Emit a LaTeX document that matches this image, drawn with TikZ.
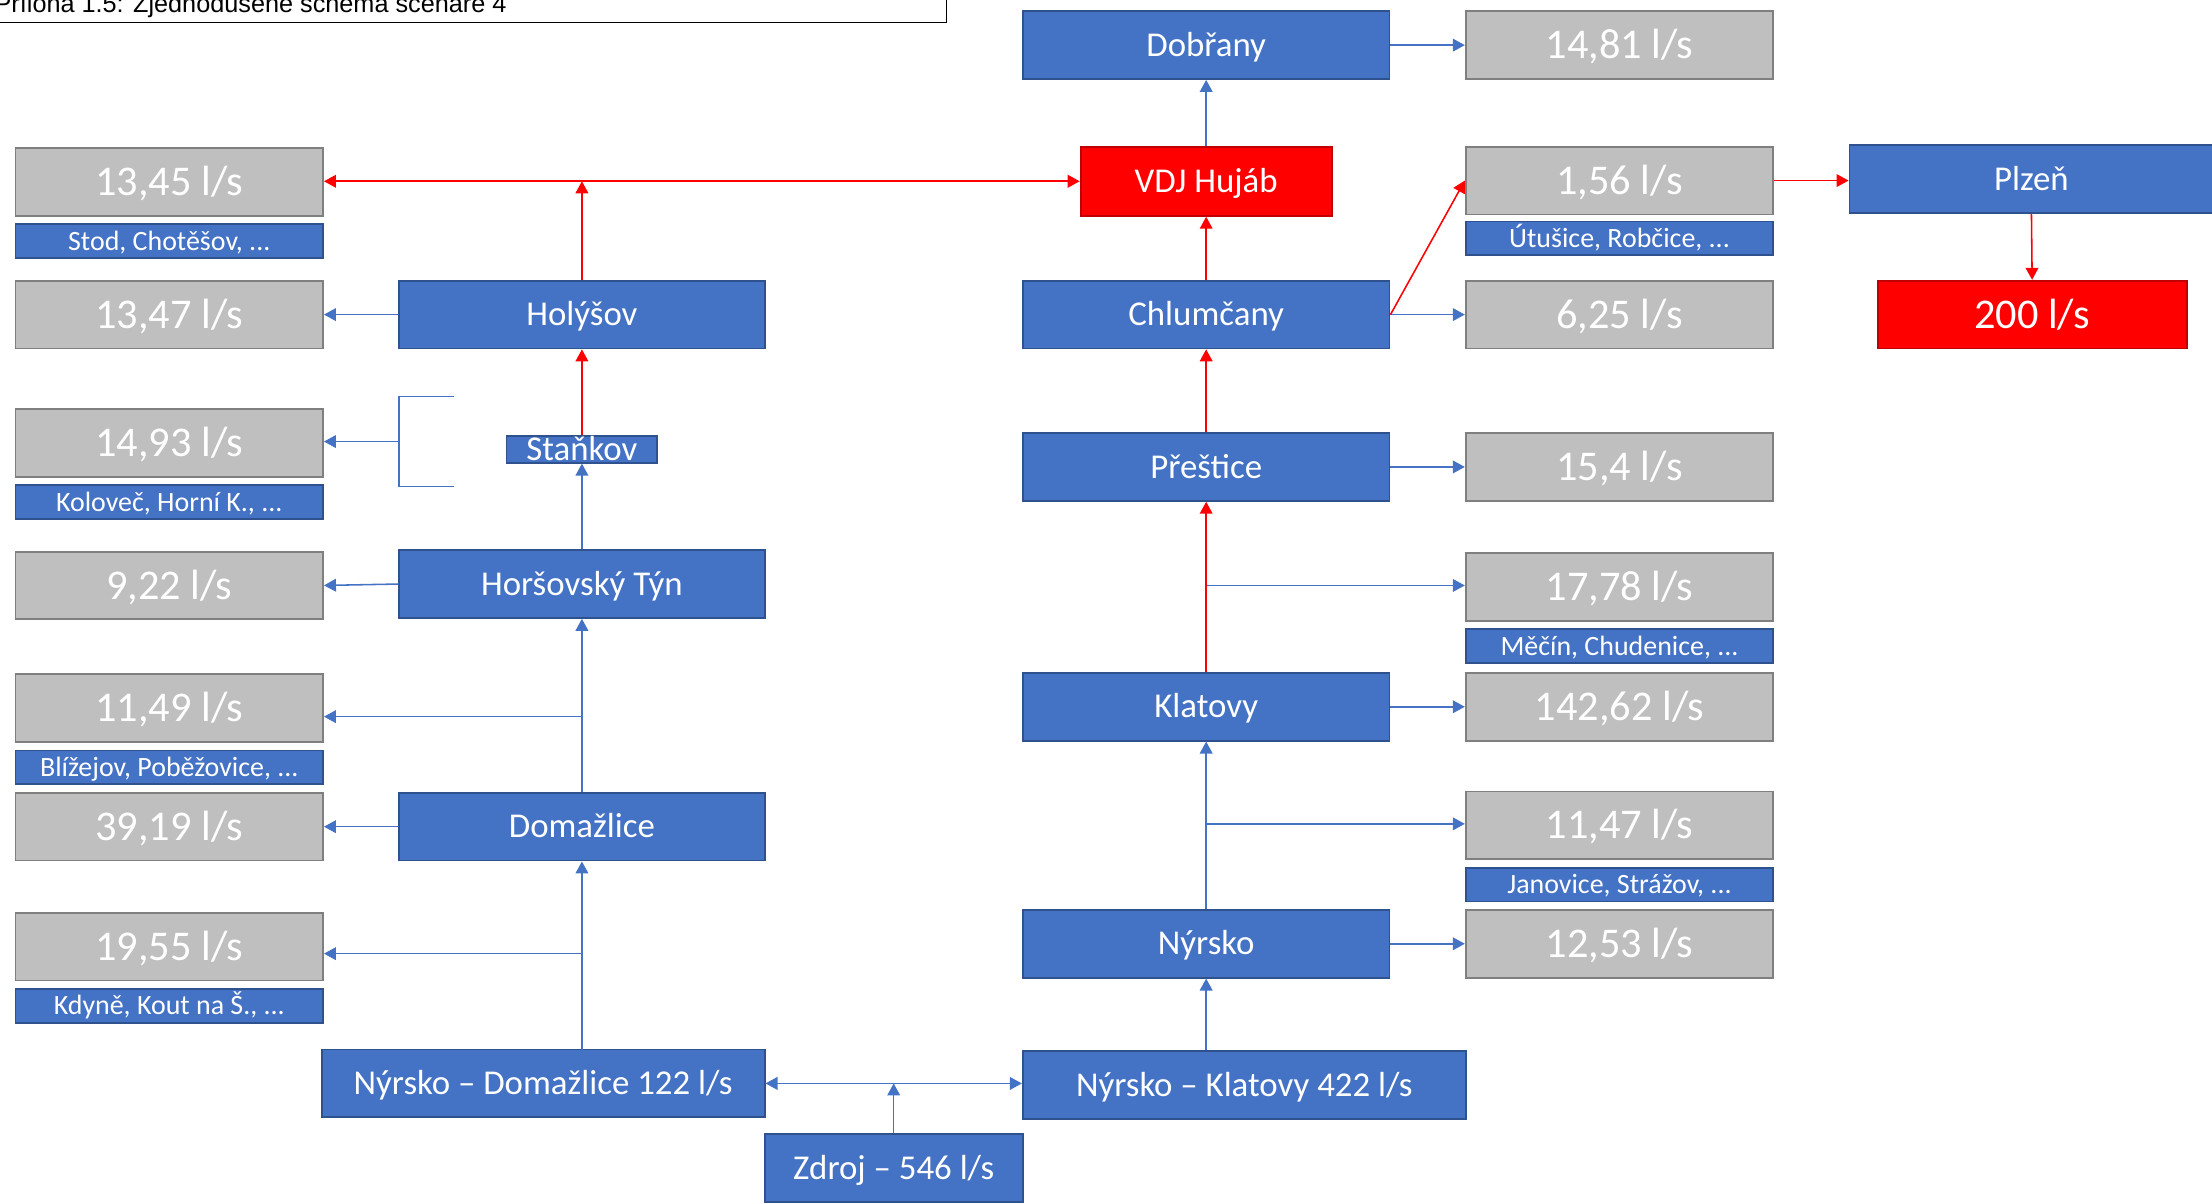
\documentclass[tikz,border=0pt]{standalone}
\usepackage{fontspec}
\setmainfont{Carlito}
\newfontfamily\capfont{Liberation Sans}
\usetikzlibrary{arrows.meta}
\definecolor{bfill}{HTML}{4472C4}
\definecolor{bdraw}{HTML}{2F528F}
\definecolor{gfill}{HTML}{BFBFBF}
\definecolor{gdraw}{HTML}{7F7F7F}
\definecolor{rfill}{HTML}{FF0000}
\definecolor{rdraw}{HTML}{C00000}
\definecolor{bline}{HTML}{4472C4}
\definecolor{rline}{HTML}{FF0000}
\begin{document}
\begin{tikzpicture}[x=1pt,y=-1pt,
  box/.style={inner sep=0pt, line width=1.3pt, text=white, text depth=0pt, align=center},
  gbox/.style={box, fill=gfill, draw=gdraw, minimum width=218pt, minimum height=48pt,
    text height=19.3pt, font=\fontsize{30}{35}\selectfont},
  lbl/.style={box, fill=bfill, draw=bdraw, minimum width=218pt, minimum height=24pt,
    text height=12.7pt, font=\fontsize{19.8}{24}\selectfont},
  bbox/.style={box, fill=bfill, draw=bdraw, minimum width=259pt, minimum height=48pt,
    text height=15.9pt, font=\fontsize{24.7}{29}\selectfont},
  rbox/.style={box, fill=rfill, draw=rdraw, minimum height=48pt},
  bconn/.style={draw=bline, line width=1.1pt, -{Triangle[length=8.5pt,width=9pt]}},
  bplain/.style={draw=bline, line width=1.1pt},
  rconn/.style={draw=rline, line width=1.1pt, -{Triangle[length=8.5pt,width=9pt]}},
]
\useasboundingbox (0,0) rectangle (1568,853);
\clip (0,0) rectangle (1568,853);

% caption
\draw[line width=1.2pt, black, fill=white] (-5,-25) rectangle (671,16);
\node[anchor=base west, inner sep=0pt, font=\capfont\fontsize{17.9}{21}\selectfont] (cap) at (-4,9) {Příloha 1.5: Zjednodušené schéma scénáře 4};

% left gray column
\node[gbox] (g1345) at (120,129) {13,45 l/s};
\node[lbl]  (lstod) at (120,171) {Stod, Chotěšov, ...};
\node[gbox] (g1347) at (120,223) {13,47 l/s};
\node[gbox] (g1493) at (120,314) {14,93 l/s};
\node[lbl]  (lkol)  at (120,356) {Koloveč, Horní K., ...};
\node[gbox] (g922)  at (120,415) {9,22 l/s};
\node[gbox] (g1149) at (120,502) {11,49 l/s};
\node[lbl]  (lbliz) at (120,544) {Blížejov, Poběžovice, ...};
\node[gbox] (g3919) at (120,586) {39,19 l/s};
\node[gbox] (g1955) at (120,671) {19,55 l/s};
\node[lbl]  (lkdy)  at (120,713) {Kdyně, Kout na Š., ...};

% left blue column
\node[bbox] (holysov) at (412.5,223) {Holýšov};
\node[bbox, minimum width=107pt, minimum height=19pt] (stankov) at (412.5,318.5) {Staňkov};
\node[bbox] (hortyn) at (412.5,414) {Horšovský Týn};
\node[bbox] (domaz) at (412.5,586) {Domažlice};
\node[bbox, minimum width=314pt] (nd) at (385,768) {Nýrsko – Domažlice 122 l/s};
\node[bbox, minimum width=183pt] (zdroj) at (633.5,828) {Zdroj – 546 l/s};

% right blue column
\node[bbox, minimum width=260pt] (dobr) at (855,32) {Dobřany};
\node[rbox, minimum width=178pt, minimum height=49pt, text height=15.9pt, font=\fontsize{24.7}{29}\selectfont] (vdj) at (855,128.5) {VDJ Hujáb};
\node[bbox, minimum width=260pt] (chlum) at (855,223) {Chlumčany};
\node[bbox, minimum width=260pt] (prest) at (855,331) {Přeštice};
\node[bbox, minimum width=260pt] (klat) at (855,501) {Klatovy};
\node[bbox, minimum width=260pt] (nyr) at (855,669) {Nýrsko};
\node[bbox, minimum width=314pt] (nk) at (882,769) {Nýrsko – Klatovy 422 l/s};

% right gray column
\node[gbox] (g1481)  at (1148,32)  {14,81 l/s};
\node[gbox] (g156)   at (1148,128) {1,56 l/s};
\node[lbl]  (lutus)  at (1148,169) {Útušice, Robčice, ...};
\node[gbox] (g625)   at (1148,223) {6,25 l/s};
\node[gbox] (g154)   at (1148,331) {15,4 l/s};
\node[gbox] (g1778)  at (1148,416) {17,78 l/s};
\node[lbl]  (lmec)   at (1148,458) {Měčín, Chudenice, ...};
\node[gbox] (g14262) at (1148,501) {142,62 l/s};
\node[gbox] (g1147)  at (1148,585) {11,47 l/s};
\node[lbl]  (ljan)   at (1148,627) {Janovice, Strážov, ...};
\node[gbox] (g1253)  at (1148,669) {12,53 l/s};

% far right
\node[bbox, minimum width=258pt] (plzen) at (1440,127) {Plzeň};
\node[rbox, minimum width=219pt, text height=19.3pt, font=\fontsize{30}{35}\selectfont] (r200) at (1440.5,223) {200 l/s};

% ---------- connectors: left branch ----------
\coordinate (ndtop) at (412.5,744);
\draw[bconn] (ndtop) -- (domaz.south);
\coordinate (br1955) at (412.5,676);
\draw[bconn] (br1955) -- (br1955 -| g1955.east);
\draw[bconn] (domaz.west) -- (g3919.east);
\draw[bconn] (domaz.north) -- (hortyn.south);
\coordinate (br1149) at (412.5,508);
\draw[bconn] (br1149) -- (br1149 -| g1149.east);
\draw[bconn] (hortyn.west) -- (g922.east);
\draw[bconn] (hortyn.north) -- (stankov.south);
\coordinate (brT) at (322,281);
\coordinate (brB) at (322,345);
\coordinate (brM) at (283,313);
\draw[bplain] (brT) -- (283,281) -- (283,345) -- (brB);
\draw[bconn] (brM) -- (brM -| g1493.east);
\draw[rconn] (stankov.north) -- (holysov.south);
\draw[bconn] (holysov.west) -- (g1347.east);
\coordinate (redjoin) at (412.5,128.5);
\draw[rconn] (holysov.north) -- (redjoin);
\draw[draw=rline, line width=1.1pt, {Triangle[length=8.5pt,width=9pt]}-{Triangle[length=8.5pt,width=9pt]}] (g1345.east |- vdj.west) -- (vdj.west);

% ---------- bottom ----------
\draw[draw=bline, line width=1.1pt, {Triangle[length=8.5pt,width=9pt]}-{Triangle[length=8.5pt,width=9pt]}] (nd.east) -- (nd.east -| nk.west);
\draw[bconn] (zdroj.north) -- (zdroj.north |- nd.east);

% ---------- right branch ----------
\draw[bconn] (nyr.south |- nk.north) -- (nyr.south);
\draw[bconn] (nyr.north) -- (klat.south);
\coordinate (br1147) at (855,584);
\draw[bconn] (br1147) -- (br1147 -| g1147.west);
\draw[bconn] (nyr.east) -- (g1253.west);
\draw[bconn] (klat.east) -- (g14262.west);
\coordinate (br1778) at (855,415);
\draw[bconn] (br1778) -- (br1778 -| g1778.west);
\draw[rconn] (klat.north) -- (prest.south);
\draw[bconn] (prest.east) -- (g154.west);
\draw[rconn] (prest.north) -- (chlum.south);
\draw[bconn] (chlum.east) -- (g625.west);
\draw[rconn] (chlum.east) -- (g156.west);
\draw[rconn] (chlum.north) -- (vdj.south);
\draw[bconn] (vdj.north) -- (dobr.south);
\draw[bconn] (dobr.east) -- (g1481.west);
\draw[rconn] (g156.east) -- (g156.east -| plzen.west);
\draw[rconn] (plzen.south) -- (r200.north);
\end{tikzpicture}
\end{document}
